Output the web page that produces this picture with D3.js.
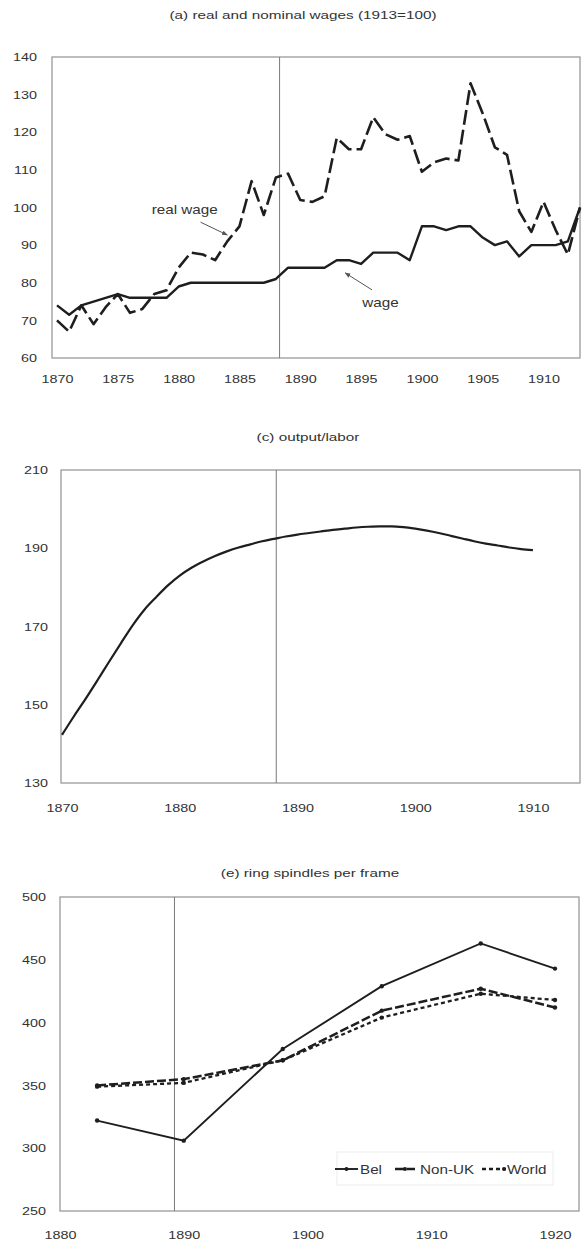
<!DOCTYPE html>
<html>
<head>
<meta charset="utf-8">
<script src="https://cdn.jsdelivr.net/npm/d3@7"></script>
<style>
  body { margin: 0; background: #fff; }
  svg { display: block; }
  text { font-family: "Liberation Sans", Arial, sans-serif; fill: #333; }
</style>
</head>
<body>
<svg id="chart" width="582" height="1247"></svg>
<script>
// ---------- (a) real and nominal wages, 1913 = 100 ----------
const wageYears = [1870,1871,1872,1873,1874,1875,1876,1877,1878,1879,
                   1880,1881,1882,1883,1884,1885,1886,1887,1888,1889,
                   1890,1891,1892,1893,1894,1895,1896,1897,1898,1899,
                   1900,1901,1902,1903,1904,1905,1906,1907,1908,1909,
                   1910,1911,1912,1913];
const nominalWage = [74,71.5,74,75,76,77,76,76,76,76,
                     79,80,80,80,80,80,80,80,81,84,
                     84,84,84,86,86,85,88,88,88,86,
                     95,95,94,95,95,92,90,91,87,90,
                     90,90,91,100];
const realWage = [70,67,74,69,73.5,77,72,73,77,78,
                  84,88,87.5,86,91,95,107,98,108,109,
                  102,101.5,103,118.5,115.5,115.5,124,119.5,118,119,
                  109.5,112,113,112.5,133,125,116,114,99,93.5,
                  101.5,94,87.5,100];
const wageXTicks = [1870,1875,1880,1885,1890,1895,1900,1905,1910];
const wageYTicks = [60,70,80,90,100,110,120,130,140];

// ---------- (c) output per unit of labour ----------
const outputYears = [1870,1871,1872,1873,1874,1875,1876,1877,1878,1879,
                     1880,1881,1882,1883,1884,1885,1886,1887,1888,1889,
                     1890,1891,1892,1893,1894,1895,1896,1897,1898,1899,
                     1900,1901,1902,1903,1904,1905,1906,1907,1908,1909,
                     1910];
const outputPerLabor = [142.3,147.0,151.5,156.2,161.0,165.7,170.3,174.3,177.5,180.5,
                        183.0,185.0,186.6,188.0,189.2,190.2,191.0,191.8,192.4,193.0,
                        193.5,193.9,194.3,194.7,195.0,195.3,195.5,195.6,195.6,195.4,
                        195.0,194.5,193.9,193.2,192.5,191.8,191.2,190.7,190.2,189.8,
                        189.5];
const outputXTicks = [1870,1880,1890,1900,1910];
const outputYTicks = [130,150,170,190,210];

// ---------- (e) ring spindles per frame ----------
const spindleYears = [1883,1890,1898,1906,1914,1920];
const spindlesBel = [322,306,379,429,463,443];
const spindlesNonUK = [350,355,370,409.5,427,412];
const spindlesWorld = [349,352,370,404,423,418];
const spindleXTicks = [1880,1890,1900,1910,1920];
const spindleYTicks = [250,300,350,400,450,500];

// year marked by the vertical rule in each panel
const ruleYearA = 1888.3;
const ruleYearC = 1888.2;
const ruleYearE = 1889.25;

const svg = d3.select("#chart");
svg.append("rect").attr("width", 582).attr("height", 1247).attr("fill", "#fff");

// the lettering of this figure is set horizontally wide
const TICK_SX = 1.25, TITLE_SX = 1.33, NOTE_SX = 1.27;
const INK = "#1e1e1e";

const defs = svg.append("defs");
defs.append("marker")
  .attr("id", "arrowhead")
  .attr("viewBox", "0 0 8 8")
  .attr("refX", 7).attr("refY", 4)
  .attr("markerWidth", 6).attr("markerHeight", 6)
  .attr("orient", "auto")
  .append("path").attr("d", "M0,1 L8,4 L0,7 Z").attr("fill", "#555");

function wideLabel(parent, x, y, str, sx, size, anchor) {
  return parent.append("text")
    .attr("transform", `translate(${x},${y}) scale(${sx},1)`)
    .attr("font-size", size)
    .attr("text-anchor", anchor || "middle")
    .text(str);
}

function frame(box, x, y, xTicks, yTicks, yLabelGap, xLabelGap, ruleYear, title, titleX, titleY) {
  const g = svg.append("g");
  g.append("rect")
    .attr("x", box.left).attr("y", box.top)
    .attr("width", box.right - box.left).attr("height", box.bottom - box.top)
    .attr("fill", "none").attr("stroke", "#9a9a9a").attr("stroke-width", 1.3);
  g.append("line")
    .attr("x1", x(ruleYear)).attr("x2", x(ruleYear))
    .attr("y1", box.top).attr("y2", box.bottom)
    .attr("stroke", "#7a7a7a").attr("stroke-width", 1);

  const yAxis = g.append("g")
    .attr("transform", `translate(${box.left},0)`)
    .call(d3.axisLeft(y).tickValues(yTicks).tickSize(0).tickPadding(yLabelGap / TICK_SX));
  const xAxis = g.append("g")
    .attr("transform", `translate(0,${box.bottom})`)
    .call(d3.axisBottom(x).tickValues(xTicks).tickSize(0).tickPadding(xLabelGap).tickFormat(d3.format("d")));
  [yAxis, xAxis].forEach(a => {
    a.select(".domain").remove();
    a.attr("font-family", null).attr("font-size", null);
    a.selectAll(".tick text")
      .attr("fill", "#333")
      .attr("font-size", 11.5)
      .attr("transform", `scale(${TICK_SX},1)`);
  });

  wideLabel(g, titleX, titleY, title, TITLE_SX, 11.5);
  return g;
}

// ---------- panel (a) ----------
const boxA = {left: 52, top: 57, right: 580, bottom: 358};
const xA = d3.scaleLinear().domain([1870, 1913]).range([57, 580]);
const yA = d3.scaleLinear().domain([60, 140]).range([358, 57]);
const gA = frame(boxA, xA, yA, wageXTicks, wageYTicks, 15, 17, ruleYearA,
                 "(a) real and nominal wages (1913=100)", 303, 19);

const lineA = d3.line().x(d => xA(d[0])).y(d => yA(d[1]));
gA.append("path")
  .attr("d", lineA(d3.zip(wageYears, realWage)))
  .attr("fill", "none").attr("stroke", INK).attr("stroke-width", 2.6)
  .attr("stroke-dasharray", "15,5").attr("stroke-linejoin", "round");
gA.append("path")
  .attr("d", lineA(d3.zip(wageYears, nominalWage)))
  .attr("fill", "none").attr("stroke", INK).attr("stroke-width", 2.4)
  .attr("stroke-linejoin", "round");

// callouts naming the two series
const notesA = [
  {text: "real wage", at: [1880.5, 98.2], from: [1881.8, 96.1], to: [1884.0, 92.7]},
  {text: "wage", at: [1896.6, 73.6], from: [1895.9, 78.1], to: [1893.7, 82.6]}
];
notesA.forEach(n => {
  wideLabel(gA, xA(n.at[0]), yA(n.at[1]), n.text, NOTE_SX, 12);
  gA.append("line")
    .attr("x1", xA(n.from[0])).attr("y1", yA(n.from[1]))
    .attr("x2", xA(n.to[0])).attr("y2", yA(n.to[1]))
    .attr("stroke", "#555").attr("stroke-width", 1)
    .attr("marker-end", "url(#arrowhead)");
});

// ---------- panel (c) ----------
const boxC = {left: 61, top: 470, right: 580, bottom: 783};
const xC = d3.scaleLinear().domain([1870, 1914]).range([62, 580]);
const yC = d3.scaleLinear().domain([130, 210]).range([783, 470]);
const gC = frame(boxC, xC, yC, outputXTicks, outputYTicks, 13, 21, ruleYearC,
                 "(c) output/labor", 308, 441);
gC.append("path")
  .attr("d", d3.line().x(d => xC(d[0])).y(d => yC(d[1]))
    .curve(d3.curveMonotoneX)(d3.zip(outputYears, outputPerLabor)))
  .attr("fill", "none").attr("stroke", INK).attr("stroke-width", 2.2)
  .attr("stroke-linejoin", "round");

// ---------- panel (e) ----------
const boxE = {left: 60, top: 897, right: 579, bottom: 1211};
const xE = d3.scaleLinear().domain([1880, 1922]).range([60, 579.75]);
const yE = d3.scaleLinear().domain([250, 500]).range([1211, 897]);
const gE = frame(boxE, xE, yE, spindleXTicks, spindleYTicks, 14, 20, ruleYearE,
                 "(e) ring spindles per frame", 310, 877);

const spindleSeries = [
  {name: "Bel", values: spindlesBel, dash: null, width: 1.9},
  {name: "Non-UK", values: spindlesNonUK, dash: "9,3", width: 2.5},
  {name: "World", values: spindlesWorld, dash: "4,3", width: 2.3}
];
const lineE = d3.line().x(d => xE(d[0])).y(d => yE(d[1]));
spindleSeries.forEach(s => {
  const pts = d3.zip(spindleYears, s.values);
  gE.append("path")
    .attr("d", lineE(pts))
    .attr("fill", "none").attr("stroke", INK).attr("stroke-width", s.width)
    .attr("stroke-dasharray", s.dash);
  gE.selectAll(null).data(pts).enter().append("circle")
    .attr("cx", d => xE(d[0])).attr("cy", d => yE(d[1]))
    .attr("r", 2.2).attr("fill", INK);
});

// legend
const legend = gE.append("g");
legend.append("rect")
  .attr("x", 337).attr("y", 1152).attr("width", 216).attr("height", 33)
  .attr("fill", "#fff").attr("stroke", "#ececec").attr("stroke-width", 1);
const legendSlots = [{x0: 335, x1: 358, tx: 360}, {x0: 395, x1: 415, tx: 420}, {x0: 482, x1: 506, tx: 507}];
spindleSeries.forEach((s, i) => {
  const slot = legendSlots[i];
  legend.append("line")
    .attr("x1", slot.x0).attr("x2", slot.x1).attr("y1", 1169).attr("y2", 1169)
    .attr("stroke", INK).attr("stroke-width", s.width).attr("stroke-dasharray", s.dash);
  legend.append("circle")
    .attr("cx", (slot.x0 + slot.x1) / 2 + (i === 2 ? 10 : 0)).attr("cy", 1169)
    .attr("r", 2).attr("fill", INK);
  wideLabel(legend, slot.tx, 1173.5, s.name, NOTE_SX, 12, "start");
});
</script>
</body>
</html>
